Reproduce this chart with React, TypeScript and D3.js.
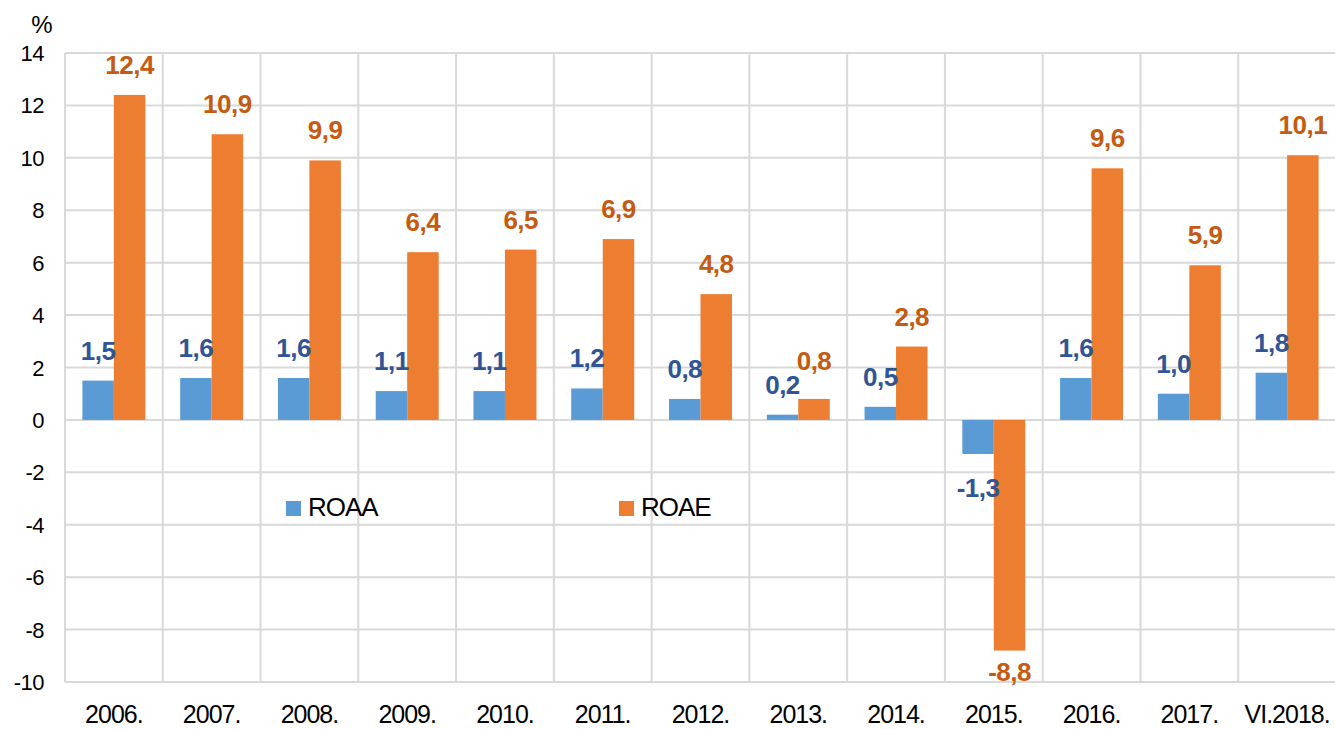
import React from "react";
import * as d3 from "d3";

const categories = ["2006.", "2007.", "2008.", "2009.", "2010.", "2011.", "2012.", "2013.", "2014.", "2015.", "2016.", "2017.", "VI.2018."];
const roaa = [1.5, 1.6, 1.6, 1.1, 1.1, 1.2, 0.8, 0.2, 0.5, -1.3, 1.6, 1.0, 1.8];
const roae = [12.4, 10.9, 9.9, 6.4, 6.5, 6.9, 4.8, 0.8, 2.8, -8.8, 9.6, 5.9, 10.1];
const seriesNames = ["ROAA", "ROAE"];
const yTicks = [14, 12, 10, 8, 6, 4, 2, 0, -2, -4, -6, -8, -10];

// label nudges (px) for individually moved labels
const labelNudge: Record<string, number> = { "ROAE-7": -8, "ROAA-9": 13 };

const W = 1335, H = 729;
const left = 65, right = 1336, top = 53, bottom = 682;
const colors = ["#5B9BD5", "#ED7D31"];
const labelColors = ["#2F5597", "#C55A11"];
const font = "'Liberation Sans', Arial, sans-serif";

export default function App() {
  const x = d3.scaleBand<string>().domain(categories).range([left, right]).padding(0);
  const inner = d3.scaleBand<string>().domain(seriesNames).range([17.4, x.bandwidth() - 17.4]).padding(0);
  const y = d3.scaleLinear().domain([-10, 14]).range([bottom, top]);
  const series = [roaa, roae];
  const fmt = (v: number) => v.toFixed(1).replace(".", ",");

  return (
    <svg width={W} height={H} style={{ position: "absolute", left: 0, top: 0, background: "#fff" }}>
      {/* grid */}
      {yTicks.map((t) => (
        <line key={"h" + t} x1={left} x2={right} y1={y(t)} y2={y(t)} stroke="#d9d9d9" strokeWidth={2} />
      ))}
      {categories.map((c) => (
        <line key={"v" + c} x1={x(c)!} x2={x(c)!} y1={top} y2={bottom} stroke="#d9d9d9" strokeWidth={2} />
      ))}
      <line x1={right} x2={right} y1={top} y2={bottom} stroke="#d9d9d9" strokeWidth={2} />
      {/* bars */}
      {series.map((vals, si) =>
        vals.map((v, i) => {
          const bx = x(categories[i])! + inner(seriesNames[si])!;
          const y0 = y(0), y1 = y(v);
          return (
            <rect key={si + "-" + i} x={bx} y={Math.min(y0, y1)} width={inner.bandwidth()} height={Math.abs(y1 - y0)} fill={colors[si]} />
          );
        })
      )}
      {/* data labels */}
      {series.map((vals, si) =>
        vals.map((v, i) => {
          const cx = x(categories[i])! + inner(seriesNames[si])! + inner.bandwidth() / 2;
          const nudge = labelNudge[seriesNames[si] + "-" + i] || 0;
          const ly = v >= 0 ? y(v) - 21 : y(v) + 30;
          return (
            <text key={"l" + si + "-" + i} x={cx} y={ly + nudge} textAnchor="middle" fill={labelColors[si]}
              fontFamily={font} fontWeight="bold" fontSize={26} letterSpacing={-0.5}>
              {fmt(v)}
            </text>
          );
        })
      )}
      {/* y ticks */}
      {yTicks.map((t) => (
        <text key={"t" + t} x={44} y={y(t) + 8} textAnchor="end" fontFamily={font} fontSize={22} letterSpacing={-0.5} fill="#000">
          {t}
        </text>
      ))}
      <text x={42} y={33} textAnchor="middle" fontFamily={font} fontSize={24} fill="#000">%</text>
      {/* x labels */}
      {categories.map((c) => (
        <text key={"x" + c} x={x(c)! + x.bandwidth() / 2} y={723} textAnchor="middle" fontFamily={font} fontSize={25} letterSpacing={-1} fill="#000">
          {c}
        </text>
      ))}
      {/* legend */}
      {seriesNames.map((s, si) => {
        const lx = si === 0 ? 286 : 619;
        return (
          <g key={"lg" + s}>
            <rect x={lx} y={501} width={15} height={15} fill={colors[si]} />
            <text x={lx + 22} y={516} fontFamily={font} fontSize={26} letterSpacing={-1} fill="#000">{s}</text>
          </g>
        );
      })}
    </svg>
  );
}
